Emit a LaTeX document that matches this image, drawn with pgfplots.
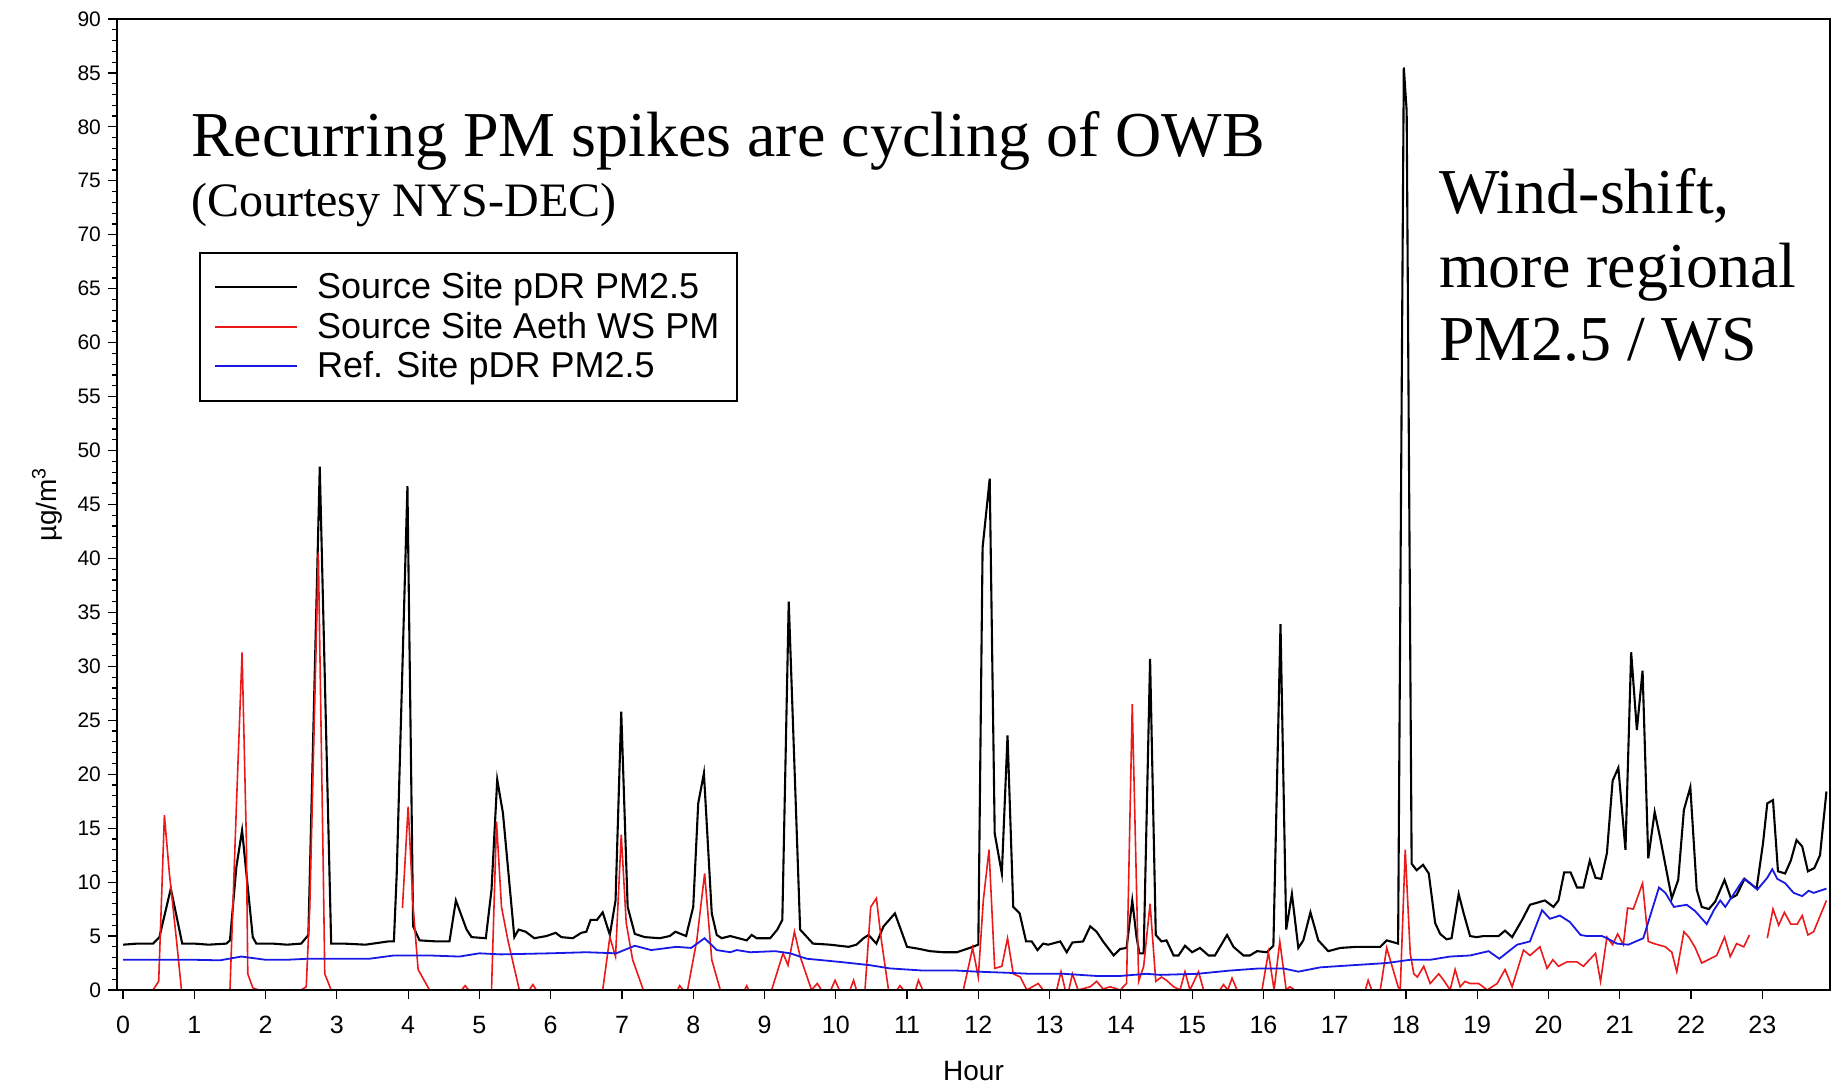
\documentclass[border=0pt]{standalone}
\usepackage{fontspec}
\setmainfont{Liberation Sans}
\newfontfamily\timesfont{Liberation Serif}
\usepackage{pgfplots}
\pgfplotsset{compat=1.18}
\usetikzlibrary{calc}
\definecolor{myred}{RGB}{235,25,25}
\definecolor{myblue}{RGB}{25,25,230}
\begin{document}
\begin{tikzpicture}
\begin{axis}[name=ax, scale only axis, width=856.5pt, height=485.5pt,
 xmin=-0.085, xmax=23.95, ymin=0, ymax=90,
 xtick={0,...,23}, ytick={0,5,...,90}, minor y tick num=4,
 tick pos=left, tick align=outside,
 major tick length=4.5pt, minor tick length=2.5pt,
 every tick/.style={black, line width=0.6pt},
 axis line style={line width=0.8pt},
 /pgf/number format/assume math mode=true,
 xticklabel style={font=\fontsize{12.5}{13}\selectfont, yshift=-5pt},
 yticklabel style={font=\fontsize{10.5}{12}\selectfont},
 xlabel={Hour}, ylabel={µg/m\textsuperscript{3}},
 label style={font=\fontsize{14}{16}\selectfont},
 xlabel style={at={(axis description cs:0.5,-0.0834)}, anchor=center},
 ylabel style={at={(axis description cs:-0.0409,0.5)}, anchor=center},
 unbounded coords=jump,
 axis on top,
 legend style={at={(0.048,0.76)}, anchor=north west, draw=black, line width=0.8pt,
   font=\fontsize{18}{20}\selectfont, inner xsep=7pt, inner ysep=8pt,
   nodes={inner sep=2pt}, cells={anchor=west}, row sep=1.2pt,
   /tikz/every odd column/.append style={column sep=7.5pt}},
 legend image code/.code={\draw[#1] (0pt,0pt) -- (41pt,0pt);},
]
\addplot[black, line width=1.05pt] table {
0.00 4.2
0.20 4.3
0.42 4.3
0.51 4.9
0.67 9.4
0.83 4.3
1.00 4.3
1.20 4.2
1.45 4.3
1.50 4.6
1.59 11.4
1.67 14.8
1.82 4.9
1.87 4.3
2.10 4.3
2.30 4.2
2.50 4.3
2.60 5.1
2.76 48.5
2.92 4.3
3.10 4.3
3.40 4.2
3.72 4.5
3.80 4.5
3.84 10.8
3.99 46.7
4.07 5.9
4.16 4.6
4.40 4.5
4.58 4.5
4.67 8.3
4.82 5.6
4.89 4.9
5.09 4.8
5.17 9.3
5.25 19.5
5.33 16.4
5.49 4.9
5.55 5.6
5.65 5.4
5.77 4.8
5.94 5.0
6.07 5.3
6.15 4.9
6.31 4.8
6.43 5.3
6.50 5.4
6.56 6.5
6.65 6.5
6.73 7.2
6.83 5.1
6.91 8.3
6.99 25.8
7.08 7.7
7.18 5.2
7.32 4.9
7.53 4.8
7.67 5.0
7.75 5.4
7.90 5.0
8.00 7.7
8.07 17.3
8.15 20.1
8.26 7.1
8.33 5.1
8.40 4.8
8.52 5.0
8.75 4.6
8.82 5.1
8.89 4.8
9.08 4.8
9.18 5.6
9.25 6.5
9.34 36.0
9.50 5.6
9.68 4.3
9.92 4.2
10.18 4.0
10.29 4.2
10.39 4.8
10.46 5.1
10.57 4.3
10.67 5.9
10.83 7.1
11.00 4.0
11.18 3.8
11.32 3.6
11.51 3.5
11.70 3.5
11.88 3.9
12.00 4.2
12.06 41.0
12.16 47.4
12.23 14.5
12.33 10.8
12.41 23.6
12.49 7.7
12.58 7.1
12.67 4.5
12.75 4.5
12.83 3.7
12.91 4.3
12.98 4.2
13.15 4.5
13.24 3.5
13.32 4.4
13.47 4.5
13.57 5.9
13.66 5.4
13.75 4.5
13.90 3.2
13.99 3.8
14.08 3.9
14.16 8.3
14.22 4.9
14.26 3.4
14.32 3.4
14.41 30.7
14.49 5.1
14.57 4.5
14.64 4.6
14.74 3.2
14.81 3.2
14.90 4.1
15.00 3.5
15.11 3.9
15.23 3.2
15.32 3.2
15.49 5.1
15.58 4.0
15.72 3.2
15.81 3.2
15.91 3.6
16.05 3.5
16.14 4.1
16.24 33.9
16.32 5.6
16.40 8.9
16.49 3.9
16.56 4.6
16.66 7.2
16.77 4.6
16.91 3.6
17.08 3.9
17.31 4.0
17.64 4.0
17.73 4.6
17.89 4.3
17.97 85.5
18.01 81.5
18.08 11.7
18.15 11.1
18.24 11.6
18.32 10.8
18.41 6.2
18.48 5.2
18.57 4.7
18.64 4.8
18.74 8.9
18.81 7.1
18.90 5.0
18.99 4.9
19.09 5.0
19.30 5.0
19.39 5.5
19.49 4.9
19.63 6.5
19.74 7.9
19.95 8.3
20.07 7.7
20.14 8.3
20.22 10.9
20.31 10.9
20.40 9.5
20.49 9.5
20.58 12.0
20.66 10.4
20.74 10.3
20.82 12.7
20.90 19.4
20.98 20.6
21.08 13.0
21.16 31.3
21.24 24.1
21.32 29.6
21.40 12.2
21.49 16.5
21.57 14.0
21.73 8.5
21.82 10.2
21.90 16.7
21.99 18.8
22.08 9.3
22.15 7.7
22.25 7.5
22.34 8.2
22.47 10.2
22.56 8.5
22.64 8.8
22.75 10.3
22.92 9.4
23.01 13.6
23.07 17.3
23.15 17.6
23.22 11.0
23.32 10.8
23.40 12.0
23.48 13.9
23.56 13.3
23.64 11.0
23.73 11.3
23.81 12.5
23.90 18.4
};
\addlegendentry{Source Site pDR PM2.5}
\addplot[myred, line width=0.8pt] table {
0.00 0
0.42 0
0.50 0.8
0.58 16.2
0.65 10.8
0.75 4.6
0.82 0
1.50 0
1.59 17
1.67 31.3
1.73 13.9
1.75 1.5
1.82 0.2
1.90 0
2.50 0
2.57 0.3
2.62 7.7
2.74 40.5
2.81 10.8
2.83 1.5
2.92 0
3.00 nan
3.92 7.6
4.00 17.0
4.07 7.7
4.14 1.9
4.30 0
4.75 0
4.80 0.4
4.85 0
5.17 0
5.24 15.6
5.31 7.7
5.40 4.6
5.56 0
5.70 0
5.75 0.5
5.80 0
6.73 0
6.83 4.9
6.91 3.1
6.99 14.4
7.06 6.2
7.15 2.8
7.30 0
7.78 0
7.81 0.4
7.86 0
7.92 0
8.05 4.6
8.16 10.8
8.26 2.8
8.38 0
8.72 0
8.75 0.4
8.78 0
9.10 0
9.26 3.4
9.33 2.3
9.42 5.4
9.50 3.1
9.66 0
9.74 0.6
9.80 0
9.93 0
9.99 0.9
10.05 0
10.20 0
10.25 0.9
10.29 0
10.41 0
10.49 7.7
10.57 8.5
10.64 4.6
10.74 0
10.86 0
10.90 0.4
10.95 0
11.12 0
11.16 0.9
11.22 0
11.79 0
11.92 3.9
12.00 1.2
12.07 8.3
12.15 13.0
12.23 2.0
12.33 2.2
12.41 4.8
12.49 1.5
12.59 1.2
12.68 0
12.84 0.6
12.91 0
13.10 0
13.16 1.7
13.22 0
13.27 0
13.32 1.5
13.40 0
13.57 0.3
13.66 0.8
13.75 0.1
13.85 0.3
13.99 0
14.08 0.6
14.16 26.5
14.25 0.8
14.32 2.2
14.41 8.0
14.49 0.8
14.57 1.2
14.64 0.9
14.74 0.3
14.83 0
14.90 1.7
14.97 0
15.09 1.7
15.16 0
15.39 0
15.44 0.5
15.50 0
15.56 1.1
15.63 0
15.98 0
16.07 3.5
16.15 0
16.23 4.5
16.32 0
16.37 0.3
16.44 0
17.43 0
17.47 0.9
17.52 0
17.64 0
17.73 3.9
17.89 0.3
17.92 0
17.99 13.0
18.06 3.4
18.11 1.5
18.16 1.2
18.25 2.2
18.34 0.6
18.46 1.5
18.53 0.9
18.62 0
18.69 1.9
18.76 0.3
18.83 0.8
18.90 0.6
19.02 0.6
19.14 0
19.28 0.6
19.39 1.9
19.49 0.3
19.65 3.7
19.74 3.2
19.88 4.0
19.98 2.0
20.06 2.8
20.14 2.2
20.26 2.6
20.40 2.6
20.49 2.2
20.66 3.4
20.73 0.8
20.82 4.9
20.90 4.2
20.97 5.2
21.05 4.2
21.11 7.6
21.19 7.5
21.32 9.9
21.40 4.5
21.48 4.3
21.64 4.0
21.73 3.5
21.80 1.7
21.90 5.4
21.97 4.9
22.06 3.9
22.15 2.5
22.27 2.9
22.36 3.2
22.47 4.9
22.55 3.1
22.64 4.3
22.74 4.0
22.82 5.1
22.95 nan
23.07 4.8
23.15 7.5
23.23 6.0
23.31 7.2
23.40 6.1
23.49 6.1
23.56 6.9
23.64 5.1
23.72 5.4
23.90 8.3
};
\addlegendentry{Source Site Aeth WS PM}
\addplot[myblue, line width=0.9pt] table {
0.00 2.8
0.50 2.8
1.00 2.8
1.36 2.75
1.66 3.1
2.00 2.8
2.30 2.8
2.60 2.9
3.00 2.9
3.46 2.9
3.80 3.2
4.00 3.2
4.30 3.2
4.72 3.1
5.00 3.4
5.30 3.3
5.99 3.4
6.50 3.5
6.92 3.4
7.18 4.1
7.41 3.7
7.76 4.0
7.97 3.9
8.16 4.8
8.33 3.7
8.52 3.5
8.61 3.7
8.80 3.5
9.15 3.6
9.36 3.4
9.59 2.9
10.06 2.6
10.48 2.3
10.76 2.0
11.23 1.8
11.70 1.8
11.98 1.7
12.40 1.6
12.73 1.5
13.20 1.5
13.66 1.3
13.99 1.3
14.36 1.5
14.55 1.4
15.07 1.5
15.53 1.8
15.95 2.0
16.28 2.0
16.49 1.7
16.80 2.1
17.26 2.3
17.73 2.5
18.06 2.8
18.34 2.8
18.62 3.1
18.90 3.2
19.16 3.6
19.31 2.9
19.56 4.2
19.74 4.5
19.91 7.4
20.02 6.6
20.16 6.9
20.30 6.3
20.45 5.1
20.54 5.0
20.75 5.0
20.82 4.8
20.96 4.3
21.12 4.2
21.33 4.8
21.55 9.5
21.64 9.0
21.76 7.7
21.94 7.9
22.06 7.3
22.22 6.1
22.32 7.4
22.41 8.3
22.48 7.7
22.57 8.6
22.74 10.3
22.83 9.9
22.93 9.3
23.07 10.4
23.14 11.2
23.21 10.3
23.32 9.9
23.44 9.0
23.56 8.7
23.65 9.2
23.72 9.0
23.90 9.4
};
\addlegendentry{Ref. Site pDR PM2.5}
\node[anchor=base west, inner sep=0pt, font=\timesfont\fontsize{32}{37}\selectfont] at (axis cs:0.95,77.3) {Recurring PM spikes are cycling of OWB};
\node[anchor=base west, inner sep=0pt, font=\timesfont\fontsize{24}{28}\selectfont] at (axis cs:0.95,71.7) {(Courtesy NYS-DEC)};
\node[anchor=base west, inner sep=0pt, font=\timesfont\fontsize{32}{37}\selectfont] at (axis cs:18.46,72.0) {Wind-shift,};
\node[anchor=base west, inner sep=0pt, font=\timesfont\fontsize{32}{37}\selectfont] at (axis cs:18.46,65.1) {more regional};
\node[anchor=base west, inner sep=0pt, font=\timesfont\fontsize{32}{37}\selectfont] at (axis cs:18.46,58.3) {PM2.5 / WS};
\end{axis}
\pgfresetboundingbox
\path[use as bounding box] ($(ax.south west)+(-58.5pt,-48pt)$) rectangle ($(ax.north east)+(3.5pt,9.5pt)$);
\end{tikzpicture}
\end{document}
